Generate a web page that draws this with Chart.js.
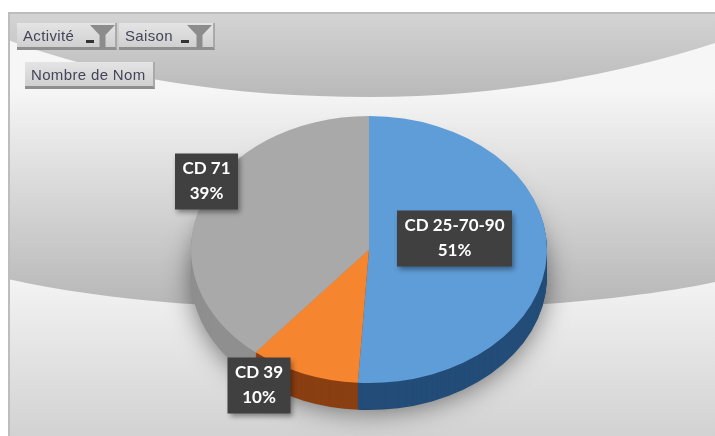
<!DOCTYPE html>
<html>
<head>
<meta charset="utf-8">
<title>Nombre de Nom</title>
<script src="https://cdn.jsdelivr.net/npm/chart.js@4"></script>
<style>
    html, body { margin: 0; padding: 0; background: #fff; overflow: hidden; }
    #zone { position: relative; width: 715px; height: 436px; }
    #canvas { position: absolute; left: 0; top: 0; filter: blur(0.5px); }
    .btn {
        position: absolute; height: 27px; box-sizing: border-box;
        background: linear-gradient(#e4e4e4, #d0d0d0); border-right: 2px solid #a9a9a9; border-bottom: 3px solid #8f8f8f;
        font: 15px "Liberation Sans", sans-serif; line-height: 25px; letter-spacing: 0.35px;
        color: #44445a; padding-left: 6px; filter: blur(0.7px); white-space: nowrap;
    }
    .fleche { position: absolute; top: 17px; width: 8px; height: 3px; background: #333; }
    .filtre {
        position: absolute; top: 2px; width: 25px; height: 24px; background: #8c8c8c;
        clip-path: polygon(0 0, 100% 0, 62% 42%, 62% 100%, 38% 100%, 38% 42%);
    }
</style>
</head>
<body>
<div id="zone">
    <canvas id="canvas" width="715" height="436"></canvas>
    <div class="btn" style="left:17px;top:23px;width:100px">Activité<span class="fleche" style="left:69px"></span><span class="filtre" style="left:73px"></span></div>
    <div class="btn" style="left:119px;top:23px;width:96px">Saison<span class="fleche" style="left:62px"></span><span class="filtre" style="left:68px"></span></div>
    <div class="btn" style="left:25px;top:62px;width:130px">Nombre de Nom</div>
</div>
<script>
const categories = ["CD 25-70-90", "CD 39", "CD 71"];
const valeurs = [51, 10, 39];
const couleurs = ["#5f9dd8", "#f5852f", "#a9a9a9"];
const couleursCote = ["#234d78", "#8a3f12", "#8f8f8f"];

// position du centre des etiquettes, par rapport au centre du camembert
const decalageEtiquettes = [[85.5, -11], [-110, 136], [-162.5, -68]];

const centreY = 249.5;
const aplat = 0.75;
const epaisseur = 27;

// fond : bande grise du haut, degrade du milieu, bas clair
const fondPlugin = {
    id: "fond",
    beforeDraw(chart) {
        const ctx = chart.ctx;
        ctx.save();
        ctx.fillStyle = "#ffffff";
        ctx.fillRect(0, 0, 715, 436);
        ctx.beginPath();
        ctx.rect(8, 12, 707, 424);
        ctx.clip();

        let g = ctx.createLinearGradient(0, 280, 0, 436);
        g.addColorStop(0, "#f3f3f3");
        g.addColorStop(1, "#d2d2d2");
        ctx.fillStyle = g;
        ctx.fillRect(8, 12, 707, 424);

        // milieu
        g = ctx.createLinearGradient(0, 90, 0, 308);
        g.addColorStop(0, "#f6f6f6");
        g.addColorStop(1, "#b6b6b6");
        ctx.fillStyle = g;
        ctx.beginPath();
        ctx.moveTo(8, 30);
        ctx.lineTo(715, 30);
        ctx.lineTo(715, 282);
        ctx.bezierCurveTo(640, 298, 520, 310, 370, 310);
        ctx.bezierCurveTo(240, 310, 110, 302, 8, 279);
        ctx.closePath();
        ctx.fill();

        // bande du haut
        g = ctx.createLinearGradient(0, 12, 0, 97);
        g.addColorStop(0, "#d4d4d4");
        g.addColorStop(1, "#b9b9b9");
        ctx.fillStyle = g;
        ctx.beginPath();
        ctx.moveTo(8, 12);
        ctx.lineTo(715, 12);
        ctx.lineTo(715, 43);
        ctx.bezierCurveTo(620, 74, 500, 97, 370, 97);
        ctx.bezierCurveTo(230, 97, 110, 78, 8, 40);
        ctx.closePath();
        ctx.fill();

        ctx.fillStyle = "#bdbdbd";
        ctx.fillRect(8, 12, 2, 424);
        ctx.fillRect(8, 12, 707, 2);
        ctx.restore();
    }
};

function dessinerCote(chart, ctx, d) {
    const arcs = chart.getDatasetMeta(0).data;
    arcs.forEach((arc, i) => {
        const avant = arc.options;
        arc.options = Object.assign({}, avant, { backgroundColor: couleursCote[i] });
        ctx.save();
        ctx.translate(0, d / aplat);
        arc.draw(ctx);
        ctx.restore();
        arc.options = avant;
    });
}

// aplatit le camembert et dessine son epaisseur avec les arcs du graphique
const reliefPlugin = {
    id: "relief",
    beforeDatasetsDraw(chart) {
        const ctx = chart.ctx;
        const cy = chart.getDatasetMeta(0).data[0].y;
        ctx.save();
        ctx.translate(0, centreY);
        ctx.scale(1, aplat);
        ctx.translate(0, -cy);

        ctx.save();
        ctx.shadowColor = "rgba(0,0,0,0.5)";
        ctx.shadowBlur = 26;
        ctx.shadowOffsetY = 2;
        dessinerCote(chart, ctx, epaisseur);
        ctx.restore();

        for (let d = epaisseur - 1; d > 0; d--) {
            dessinerCote(chart, ctx, d);
        }
    },
    afterDatasetsDraw(chart) {
        chart.ctx.restore();
    },
    afterDraw(chart) {
        const ctx = chart.ctx;
        const arcs = chart.getDatasetMeta(0).data;
        const total = valeurs.reduce((a, b) => a + b, 0);
        ctx.save();
        ctx.textAlign = "center";
        ctx.textBaseline = "middle";
        ctx.font = "bold 17px Lato, sans-serif";
        categories.forEach((nom, i) => {
            const x = arcs[i].x + decalageEtiquettes[i][0];
            const y = centreY + decalageEtiquettes[i][1];
            const pct = Math.round(valeurs[i] / total * 100) + "%";
            const larg = Math.ceil(Math.max(ctx.measureText(nom).width, ctx.measureText(pct).width)) + 14;
            ctx.save();
            ctx.shadowColor = "rgba(0,0,0,0.4)";
            ctx.shadowBlur = 5;
            ctx.shadowOffsetX = 2;
            ctx.shadowOffsetY = 3;
            ctx.fillStyle = "#404040";
            ctx.fillRect(x - larg / 2, y - 28, larg, 56);
            ctx.restore();
            ctx.fillStyle = "#ffffff";
            ctx.fillText(nom, x, y - 12.5);
            ctx.fillText(pct, x, y + 12.5);
        });
        ctx.restore();
    }
};

new Chart(document.getElementById("canvas"), {
    type: "pie",
    data: {
        labels: categories,
        datasets: [{
            data: valeurs,
            backgroundColor: couleurs,
            borderWidth: 0,
            clip: false
        }]
    },
    options: {
        responsive: false,
        animation: false,
        layout: { padding: { left: 191, right: 168, top: 40, bottom: 40 } },
        plugins: {
            legend: { display: false },
            tooltip: { enabled: false }
        }
    },
    plugins: [fondPlugin, reliefPlugin]
});
</script>
</body>
</html>
